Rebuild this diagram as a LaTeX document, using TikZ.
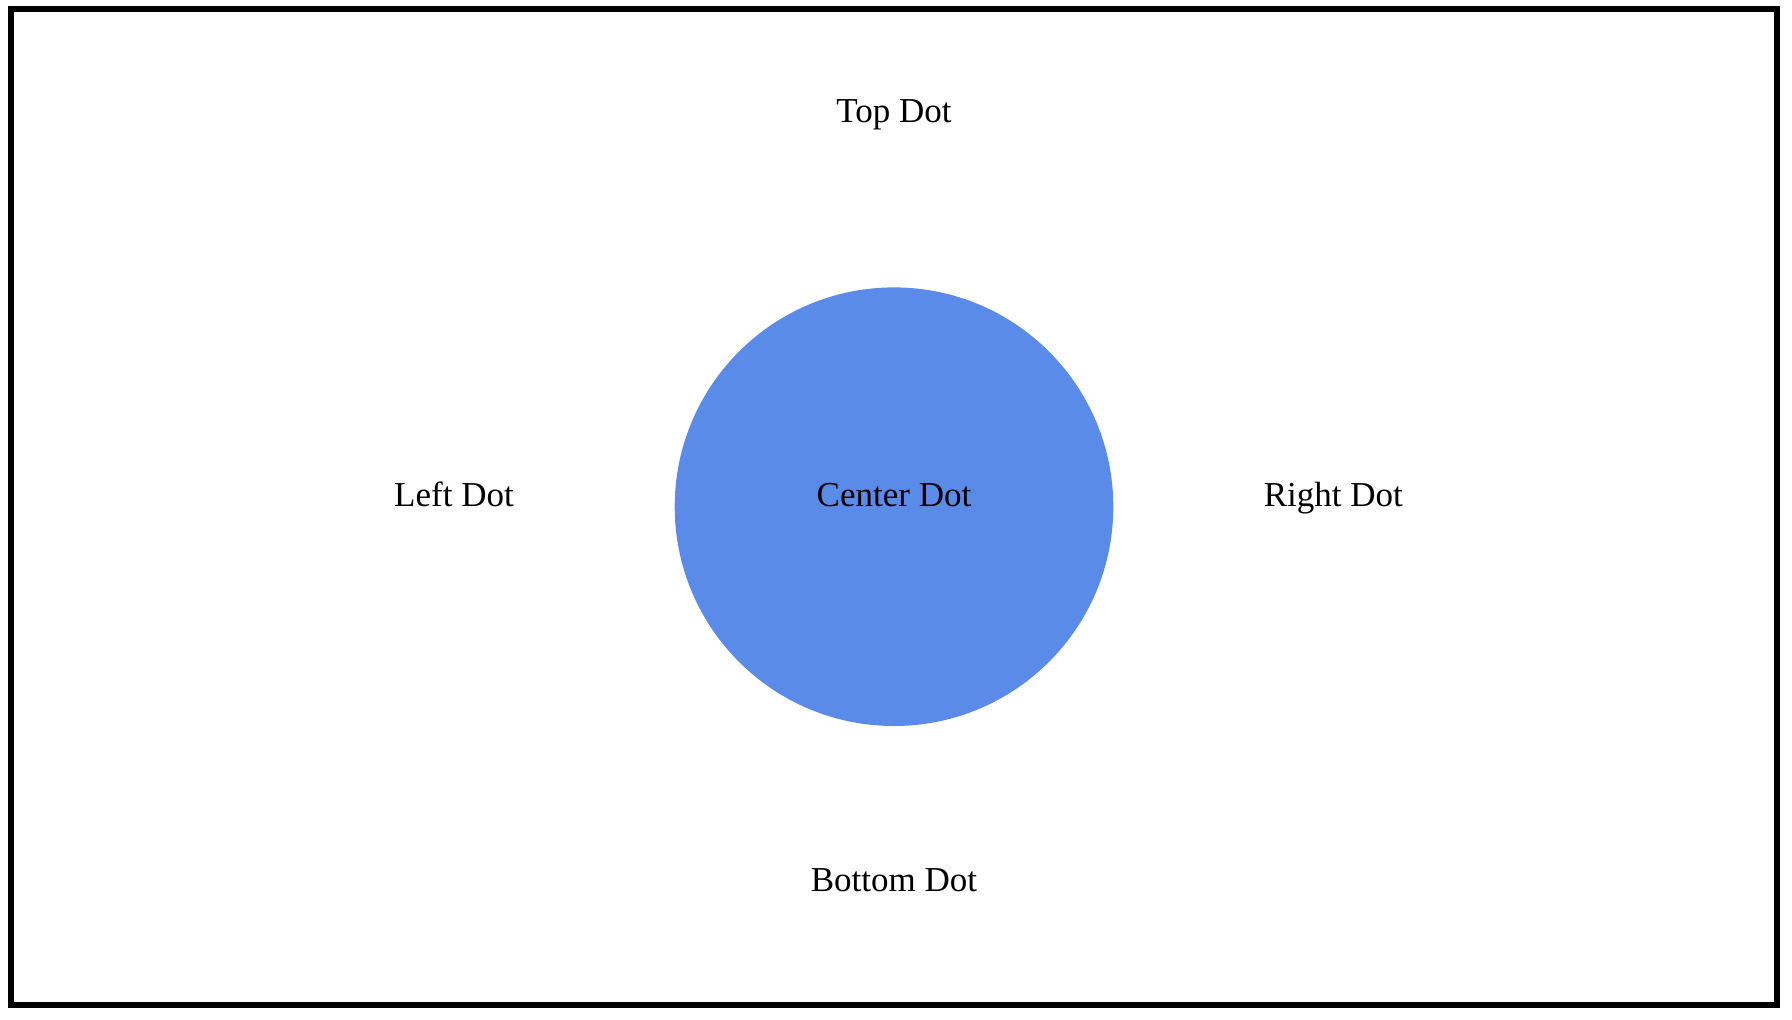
\documentclass[tikz,border=0pt]{standalone}
\usepackage{fontspec}
\setmainfont{Liberation Serif}
\definecolor{dotblue}{HTML}{5B8BE8}
\begin{document}
\begin{tikzpicture}[x=1pt,y=-1pt,
  lbl/.style={anchor=base,inner sep=0pt,font=\fontsize{35}{42}\selectfont,text=black}]
\useasboundingbox (0,0) rectangle (1792,1020);
\fill[white] (0,0) rectangle (1792,1020);
\draw[line width=6pt,black] (11,9) rectangle (1777,1005);
\fill[dotblue] (894,506.7) circle[radius=219.3];
\node[lbl] (top) at (894,122.7) {Top Dot};
\node[lbl] (left) at (454,506.7) {Left Dot};
\node[lbl] (center) at (894,506.7) {Center Dot};
\node[lbl] (right) at (1333.3,506.7) {Right Dot};
\node[lbl] (bottom) at (894,891.7) {Bottom Dot};
\end{tikzpicture}
\end{document}
